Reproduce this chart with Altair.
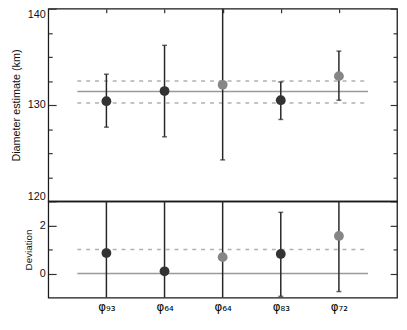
import json
import altair as alt
import pandas as pd

# ---- data ----
labels = ["φ₉₃", "φ₆₄", "φ₆₄", "φ₈₃", "φ₇₂"]
pos = [1, 2, 3, 4, 5]
kind = ["dark", "dark", "grey", "dark", "grey"]

diam = [130.4, 131.45, 132.1, 130.5, 133.0]
diam_lo = [127.7, 126.7, 124.3, 128.5, 130.5]
diam_hi = [133.2, 136.2, 142.0, 132.4, 135.6]
diam_ref = [131.4]
diam_band = [130.2, 132.5]

dev = [0.85, 0.09, 0.68, 0.81, 1.56]
dev_lo = [-1.5, -1.5, -1.5, -0.95, -0.75]
dev_hi = [3.5, 3.5, 3.5, 2.54, 3.5]
dev_ref = [0.0]
dev_band = [1.0]

top_major = [120, 130, 140]
top_minor = [122.5, 125, 127.5, 132.5, 135, 137.5]
bot_major = [0, 2]
bot_minor = [1]

FONT = "Liberation Sans"
label_expr = json.dumps(labels) + "[datum.value - 1]"
W = 355


def noax(**kw):
    base = dict(domain=False, grid=False, labels=False, minExtent=0, maxExtent=200)
    base.update(kw)
    return alt.Axis(**base)


def panel(val, lo, hi, ref, band, domain, major, minor, title, tsize, height, bottom, flush):
    df = pd.DataFrame({"pos": pos, "kind": kind, "val": val, "lo": lo, "hi": hi})
    caps = pd.DataFrame(
        [{"pos": p, "cap": v} for p, a, b in zip(pos, lo, hi) for v in (a, b)
         if domain[0] <= v <= domain[1]]
    )
    ref_df = pd.DataFrame({"x": [0.5] * len(ref), "x2": [5.5] * len(ref), "y": ref})
    band_df = pd.DataFrame({"x": [0.5] * len(band), "x2": [5.5] * len(band), "y": band})

    xs = alt.Scale(domain=[0, 6], nice=False, zero=False)
    ys = alt.Scale(domain=domain, nice=False, zero=False)
    if bottom:
        xax = alt.Axis(orient="bottom", values=pos, labelExpr=label_expr, ticks=False,
                       domain=False, grid=False, labelPadding=4, labelFontSize=12,
                       labelFont="DejaVu Sans", labelColor="#000", title=None, minExtent=0)
    else:
        xax = noax(orient="top", offset=-4, values=pos, tickSize=4, title=None)

    ax_lab = alt.Axis(orient="left", values=major, ticks=False, labelPadding=3,
                      labelFlush=flush, domain=False, grid=False, title=title,
                      titlePadding=6, titleFontSize=tsize, titleFontWeight="normal",
                      labelFontSize=11, minExtent=0)
    ax_lmaj = noax(orient="left", offset=-8, values=major, tickSize=8, title=None)
    ax_lmin = noax(orient="left", offset=-4, values=minor, tickSize=4, title=None)
    ax_rmaj = noax(orient="right", offset=-7, values=major, tickSize=7, title=None)
    ax_rmin = noax(orient="right", offset=-4, values=minor, tickSize=4, title=None)

    solid = alt.Chart(ref_df).mark_rule(color="#9a9a9a", strokeWidth=1.5).encode(
        x=alt.X("x:Q", scale=xs, axis=xax), x2="x2:Q",
        y=alt.Y("y:Q", scale=ys, axis=ax_lab))
    dashed = alt.Chart(band_df).mark_rule(color="#b0b0b0", strokeWidth=1.5,
                                         strokeDash=[4, 5]).encode(
        x=alt.X("x:Q", scale=xs, axis=xax), x2="x2:Q",
        y=alt.Y("y:Q", scale=ys, axis=ax_lmaj))
    bars = alt.Chart(df).mark_rule(color="#262626", strokeWidth=1.5, clip=True).encode(
        x=alt.X("pos:Q", scale=xs, axis=xax),
        y=alt.Y("lo:Q", scale=ys, axis=ax_lmin), y2="hi:Q")
    capm = alt.Chart(caps).mark_tick(color="#262626", orient="horizontal", size=5,
                                     thickness=1.5).encode(
        x=alt.X("pos:Q", scale=xs, axis=xax),
        y=alt.Y("cap:Q", scale=ys, axis=ax_rmaj))
    pts = alt.Chart(df).mark_circle(size=100, opacity=1).encode(
        x=alt.X("pos:Q", scale=xs, axis=xax),
        y=alt.Y("val:Q", scale=ys, axis=ax_rmin),
        color=alt.Color("kind:N", scale=alt.Scale(domain=["dark", "grey"],
                                                  range=["#333333", "#868686"]),
                        legend=None))
    return alt.layer(solid, dashed, bars, capm, pts).resolve_axis(y="independent").properties(
        width=W, height=height)


top = panel(diam, diam_lo, diam_hi, diam_ref, diam_band, [120, 140], top_major, top_minor,
            "Diameter estimate (km)", 11, 196, False, True)
bot = panel(dev, dev_lo, dev_hi, dev_ref, dev_band, [-1, 3], bot_major, bot_minor,
            "Deviation", 10, 98, True, False)

chart = alt.vconcat(top, bot, spacing=0, bounds="flush").properties(
    padding={"left": 1, "top": -4, "right": 0, "bottom": 0},
    background="white",
).configure_view(stroke="#1a1a1a", strokeWidth=1.3).configure_axis(
    labelFont=FONT, titleFont=FONT, labelColor="#111", titleColor="#111",
    tickColor="#333", tickWidth=1.2
)

chart.save("out.html", embed_options={"renderer": "svg", "actions": False})
